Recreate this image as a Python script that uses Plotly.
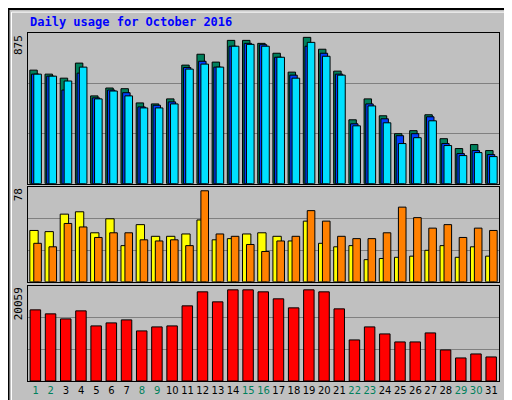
import plotly.graph_objects as go

days = list(range(1, 32))
weekend = [1, 2, 8, 9, 15, 16, 22, 23, 29, 30]
hits = [679,655,631,721,525,572,568,483,477,507,709,774,727,857,857,839,780,667,875,804,673,382,507,406,299,317,412,269,210,234,198]
files = [655,643,560,661,513,560,544,459,469,489,695,732,697,822,839,831,756,649,822,780,655,358,477,388,287,299,400,240,180,198,174]
pages = [655,643,614,697,507,554,525,453,453,477,685,715,697,822,833,822,756,631,845,762,649,346,465,364,240,275,376,228,168,186,162]
visits = [44,43,58,60,42,54,31,49,39,39,41,53,36,37,41,42,39,35,52,33,30,31,19,20,21,22,27,31,21,30,22]
sites = [33,30,50,47,38,42,42,36,35,36,31,78,41,39,32,26,35,39,61,52,39,37,37,42,64,55,46,49,38,46,44]
kbytes = [15651,14769,13667,15431,12124,12786,13447,11022,11904,12124,16533,19619,17415,20059,20059,19619,18076,16092,20059,19619,15872,9038,11904,10361,8597,8597,10581,6834,5070,5952,5291]

BG = "#C0C0C0"
line = dict(color="black", width=1)
fig = go.Figure()

def bar(y, color, off, w, ax):
    fig.add_trace(go.Bar(x=days, y=y, offset=off, width=w, marker=dict(color=color, line=line),
                         xaxis="x" + ax, yaxis="y" + ax, hoverinfo="skip"))

bar(hits, "#00805C", -0.38, 0.49, "")
bar(files, "#0040FF", -0.27, 0.49, "")
bar(pages, "#00E0FF", -0.12, 0.5, "")
bar(visits, "#FFFF00", -0.38, 0.55, "2")
bar(sites, "#FF8000", -0.12, 0.5, "2")
bar(kbytes, "#FF0000", -0.36, 0.69, "3")

ticktext = ["<span style='color:%s'>%d</span>" % ("#00805C" if d in weekend else "black", d) for d in days]

def xax(show, anchor):
    return dict(range=[0.5, 31.5], showgrid=False, showline=True, mirror=True, linecolor="black",
                linewidth=1, zeroline=False, anchor=anchor, tickvals=days, ticktext=ticktext,
                showticklabels=show, ticks="", tickangle=0,
                tickfont=dict(family="DejaVu Sans", size=10), fixedrange=True)

def yax(dom, top, anchor):
    return dict(domain=dom, range=[0, top], tickvals=[top/3, 2*top/3], showticklabels=False,
                gridcolor="#808080", gridwidth=1, showline=True, mirror=True, linecolor="black",
                zeroline=False, ticks="", anchor=anchor)

fig.update_layout(
    width=512, height=400, barmode="overlay", showlegend=False,
    paper_bgcolor=BG, plot_bgcolor=BG,
    margin=dict(l=20, r=21, t=25, b=24),
    xaxis=xax(False, "y"), xaxis2=xax(False, "y2"), xaxis3=xax(True, "y3"),
    yaxis=yax([0.567, 1], 901, "x"), yaxis2=yax([0.285, 0.558], 81.4, "x2"),
    yaxis3=yax([0, 0.2735], 20941, "x3"),
)

mono = "DejaVu Sans Mono"
def rlabel(text, y):
    return dict(text=text, x=1, y=y, xref="paper", yref="paper", xanchor="center", yanchor="bottom",
                xshift=10, textangle=-90, showarrow=False, font=dict(family=mono, size=11, color="black"))
def llabel(text, y):
    return dict(text=text, x=0, y=y, xref="paper", yref="paper", xanchor="center", yanchor="top",
                xshift=-10, textangle=-90, showarrow=False, font=dict(family=mono, size=11, color="black"))
ann = [
    dict(text="<b>Daily usage for October 2016</b>", x=0, y=1.031, xref="paper", yref="paper",
         xanchor="left", yanchor="middle", showarrow=False, font=dict(family=mono, size=12, color="#0000FF")),
    llabel("875", 1), llabel("78", 0.558), llabel("20059", 0.2735),
    rlabel("<span style='color:#00E0FF'>Pages</span> / <span style='color:#0040FF'>Files</span> / <span style='color:#00805C'>Hits</span>", 0.567),
    rlabel("<span style='color:#FF8000'>Sites</span> / <span style='color:#FFFF00'>Visits</span>", 0.285),
    rlabel("<span style='color:#FF0000'>KBytes</span>", 0),
]
fig.update_layout(annotations=ann)
fig.update_layout(shapes=[
    dict(type="rect", xref="paper", yref="paper", x0=-0.0415, x1=1.041, y0=-0.064, y1=1.069,
         line=dict(color="black", width=2)),
    dict(type="rect", xref="paper", yref="paper", x0=-0.035, x1=1.034, y0=-0.056, y1=1.06,
         line=dict(color="white", width=1)),
])
fig.write_html("out.html")
